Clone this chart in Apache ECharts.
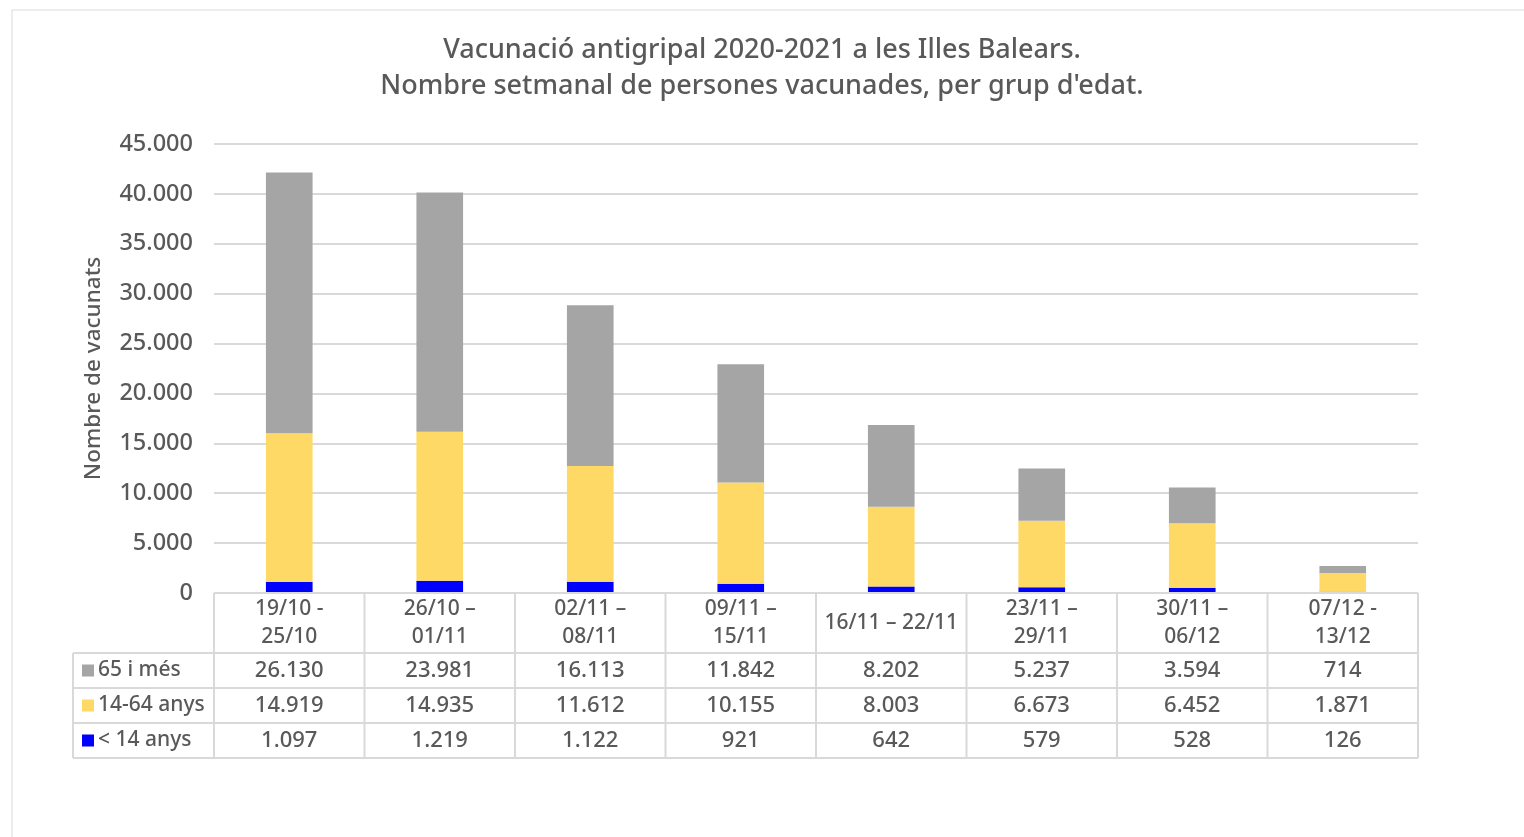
<!DOCTYPE html>
<html>
<head>
<meta charset="utf-8">
<script src="https://cdn.jsdelivr.net/npm/echarts/dist/echarts.min.js"></script>
<style>
  html, body { margin: 0; padding: 0; background: #fff; }
  #chart { width: 1524px; height: 837px; }
</style>
</head>
<body>
<div id="chart"></div>
<script>
// Setmanes de la campanya
const categories = [
  '19/10 -\n25/10', '26/10 –\n01/11', '02/11 –\n08/11', '09/11 –\n15/11',
  '16/11 – 22/11', '23/11 –\n29/11', '30/11 –\n06/12', '07/12 -\n13/12'
];
// Persones vacunades per grup d'edat
const grup65 = [26130, 23981, 16113, 11842, 8202, 5237, 3594, 714];
const grup1464 = [14919, 14935, 11612, 10155, 8003, 6673, 6452, 1871];
const grup14 = [1097, 1219, 1122, 921, 642, 579, 528, 126];
const seriesNames = ['65 i més', '14-64 anys', '< 14 anys'];
const seriesColors = ['#a5a5a5', '#ffd966', '#0000ff'];

const FONT = '"Noto Sans", sans-serif';
const W = 500;
const TXT = '#595959';
const LINE = '#d9d9d9';

function fmt(n) {
  return String(n).replace(/\B(?=(\d{3})+(?!\d))/g, '.');
}

// Plot area
const G = { left: 214, top: 144, width: 1204, height: 449 };
const tableLeft = 73;
const headerH = 60, rowH = 35;

const chart = echarts.init(document.getElementById('chart'));

chart.setOption({
  animation: false,
  title: {
    text: 'Vacunació antigripal 2020-2021 a les Illes Balears.\nNombre setmanal de persones vacunades, per grup d\'edat.',
    left: 'center',
    top: 27,
    textStyle: { fontFamily: FONT, fontSize: 27, fontWeight: W, color: TXT, lineHeight: 36 }
  },
  grid: { left: G.left, top: G.top, width: G.width, height: G.height },
  xAxis: {
    type: 'category',
    data: categories,
    axisLine: { show: false },
    axisTick: { show: false },
    axisLabel: {
      fontFamily: FONT, fontSize: 21, fontWeight: W, color: TXT, lineHeight: 28,
      verticalAlign: 'middle', margin: 30, interval: 0
    }
  },
  yAxis: {
    type: 'value',
    min: 0, max: 45000, interval: 5000,
    name: 'Nombre de vacunats',
    nameLocation: 'middle',
    nameRotate: 90,
    nameGap: 109,
    nameTextStyle: { fontFamily: FONT, fontSize: 22.5, fontWeight: W, color: TXT },
    axisLabel: { fontFamily: FONT, fontSize: 23.5, fontWeight: W, color: TXT, margin: 21, formatter: fmt },
    splitLine: { lineStyle: { color: LINE, width: 2 } }
  },
  series: [
    { name: seriesNames[2], type: 'bar', stack: 'total', data: grup14, barWidth: '31%', itemStyle: { color: seriesColors[2] } },
    { name: seriesNames[1], type: 'bar', stack: 'total', data: grup1464, barWidth: '31%', itemStyle: { color: seriesColors[1] } },
    { name: seriesNames[0], type: 'bar', stack: 'total', data: grup65, barWidth: '31%', itemStyle: { color: seriesColors[0] } }
  ]
});

// Data table below the axis
const rows = [grup65, grup1464, grup14];
const bottom = G.top + G.height;
const tableTop = bottom + headerH;
const tableBottom = tableTop + rows.length * rowH;
const right = G.left + G.width;
const step = G.width / categories.length;
const els = [];

// chart frame
els.push({ type: 'rect', shape: { x: 12, y: 10, width: 1530, height: 840 },
  style: { fill: null, stroke: LINE, lineWidth: 1 }, silent: true });

function hline(x1, x2, y) {
  els.push({ type: 'line', shape: { x1, y1: y, x2, y2: y }, style: { stroke: LINE, lineWidth: 2 }, z: 5 });
}
function vline(x, y1, y2) {
  els.push({ type: 'line', shape: { x1: x, y1, x2: x, y2 }, style: { stroke: LINE, lineWidth: 2 }, z: 5 });
}

hline(G.left, right, bottom);
for (let r = 0; r <= rows.length; r++) hline(tableLeft, right, tableTop + r * rowH);
vline(tableLeft, tableTop, tableBottom);
for (let i = 0; i <= categories.length; i++) vline(G.left + i * step, bottom, tableBottom);

rows.forEach((vals, r) => {
  const cy = tableTop + r * rowH + rowH / 2;
  els.push({ type: 'rect', shape: { x: 82, y: cy - 6, width: 12, height: 12 },
    style: { fill: seriesColors[r] }, z: 6 });
  els.push({ type: 'text', x: 98, y: cy,
    style: { text: seriesNames[r], fontFamily: FONT, fontSize: 21, fontWeight: W, fill: TXT,
      textAlign: 'left', textVerticalAlign: 'middle' }, z: 6 });
  vals.forEach((v, i) => {
    const cx = chart.convertToPixel({ xAxisIndex: 0 }, i);
    els.push({ type: 'text', x: cx, y: cy,
      style: { text: fmt(v), fontFamily: FONT, fontSize: 22, fontWeight: W, fill: TXT,
        textAlign: 'center', textVerticalAlign: 'middle' }, z: 6 });
  });
});

chart.setOption({ graphic: { elements: els } });
</script>
</body>
</html>
